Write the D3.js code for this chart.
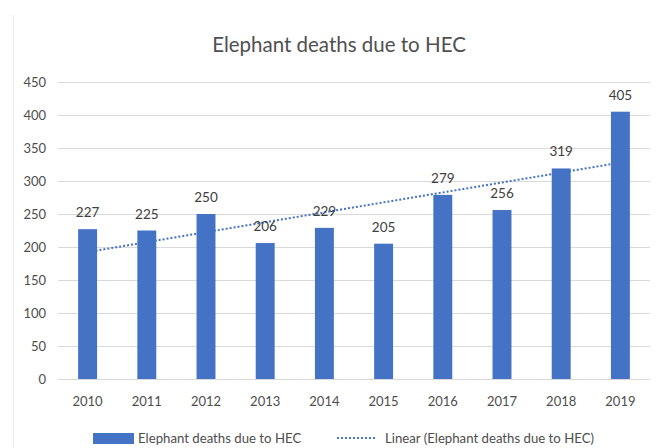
<!DOCTYPE html>
<html>
<head>
<meta charset="utf-8">
<script src="https://cdn.jsdelivr.net/npm/d3@7"></script>
<style>
  body { margin: 0; background: #fff; }
  text { font-family: Lato, "Open Sans", sans-serif; }
</style>
</head>
<body>
<div id="chart"></div>
<script>
var years = ["2010", "2011", "2012", "2013", "2014", "2015", "2016", "2017", "2018", "2019"];
var deaths = [227, 225, 250, 206, 229, 205, 279, 256, 319, 405];
var yTicks = [0, 50, 100, 150, 200, 250, 300, 350, 400, 450];

var width = 660, height = 448;
var plotLeft = 58, plotRight = 650, plotTop = 82, plotBottom = 379;

var svg = d3.select("#chart")
  .append("svg")
    .attr("width", width)
    .attr("height", height);

// chart area border, faint
svg.append("line")
  .attr("x1", 13.5).attr("x2", 13.5)
  .attr("y1", 15).attr("y2", height)
  .attr("stroke", "#ececec");

var x = d3.scaleBand()
  .domain(years)
  .range([plotLeft, plotRight])
  .paddingInner(0.68)
  .paddingOuter(0.34);

var y = d3.scaleLinear()
  .domain([0, 450])
  .range([plotBottom, plotTop]);

// gridlines
svg.append("g")
    .attr("class", "grid")
  .selectAll("line")
    .data(yTicks)
  .enter().append("line")
    .attr("x1", plotLeft)
    .attr("x2", plotRight)
    .attr("y1", function(d) { return Math.round(y(d)) + 0.5; })
    .attr("y2", function(d) { return Math.round(y(d)) + 0.5; })
    .attr("stroke", "#d9d9d9")
    .attr("stroke-width", 1);

// y labels
svg.append("g")
  .selectAll("text")
    .data(yTicks)
  .enter().append("text")
    .attr("x", 46)
    .attr("y", function(d) { return y(d); })
    .attr("dy", "0.35em")
    .attr("text-anchor", "end")
    .attr("font-size", 13)
    .attr("fill", "#4d4d4d")
    .text(function(d) { return d; });

// x labels
svg.append("g")
  .selectAll("text")
    .data(years)
  .enter().append("text")
    .attr("x", function(d) { return x(d) + x.bandwidth() / 2; })
    .attr("y", 401)
    .attr("dy", "0.35em")
    .attr("text-anchor", "middle")
    .attr("font-size", 13)
    .attr("fill", "#4d4d4d")
    .text(function(d) { return d; });

// linear trend (least squares over category index)
var n = deaths.length;
var mx = d3.mean(d3.range(n)), my = d3.mean(deaths);
var slope = d3.sum(deaths, function(v, i) { return (i - mx) * (v - my); }) /
            d3.sum(d3.range(n), function(i) { return (i - mx) * (i - mx); });
var icpt = my - slope * mx;
var cx = function(i) { return x(years[i]) + x.bandwidth() / 2; };

svg.append("line")
  .attr("x1", cx(0))
  .attr("y1", y(icpt))
  .attr("x2", cx(n - 1))
  .attr("y2", y(icpt + slope * (n - 1)))
  .attr("stroke", "#4472c4")
  .attr("stroke-width", 2)
  .attr("stroke-dasharray", "2,2");

// bars
svg.append("g")
  .selectAll("rect")
    .data(deaths)
  .enter().append("rect")
    .attr("x", function(d, i) { return x(years[i]); })
    .attr("y", function(d) { return y(d); })
    .attr("width", x.bandwidth())
    .attr("height", function(d) { return y(0) - y(d); })
    .attr("fill", "#4472c4");

// value labels
svg.append("g")
  .selectAll("text")
    .data(deaths)
  .enter().append("text")
    .attr("x", function(d, i) { return cx(i); })
    .attr("y", function(d) { return y(d) - 12; })
    .attr("text-anchor", "middle")
    .attr("font-size", 13.5)
    .attr("fill", "#404040")
    .text(function(d) { return d; });

// title
svg.append("text")
  .attr("x", 339)
  .attr("y", 52)
  .attr("text-anchor", "middle")
  .attr("font-size", 20.5)
  .attr("fill", "#505050")
  .text("Elephant deaths due to HEC");

// legend
var lg = svg.append("g").attr("transform", "translate(0,438)");
lg.append("rect")
  .attr("x", 93).attr("y", -5)
  .attr("width", 41).attr("height", 11)
  .attr("fill", "#4472c4");
lg.append("text")
  .attr("x", 138).attr("y", 0).attr("dy", "0.35em")
  .attr("font-size", 13.2).attr("fill", "#4d4d4d")
  .text("Elephant deaths due to HEC");
lg.append("line")
  .attr("x1", 337).attr("x2", 377)
  .attr("y1", 0).attr("y2", 0)
  .attr("stroke", "#4472c4")
  .attr("stroke-width", 2)
  .attr("stroke-dasharray", "2,2");
lg.append("text")
  .attr("x", 385).attr("y", 0).attr("dy", "0.35em")
  .attr("font-size", 13.2).attr("fill", "#4d4d4d")
  .text("Linear (Elephant deaths due to HEC)");
</script>
</body>
</html>
